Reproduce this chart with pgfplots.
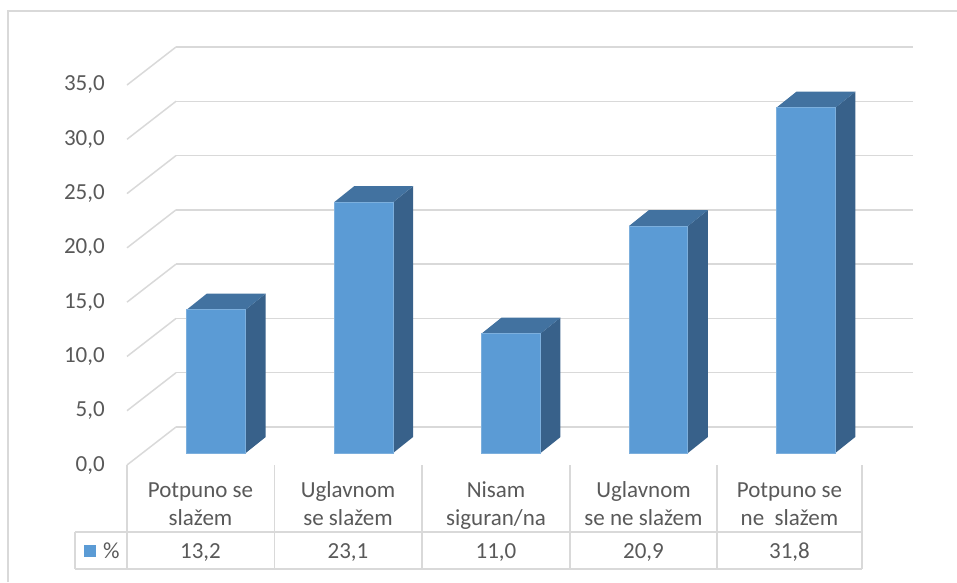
\documentclass[border=0pt]{standalone}
\usepackage{pgfplots}
\usepackage{pgfplotstable}
\pgfplotsset{compat=1.18}
\usepackage{fontspec}
\setmainfont{Carlito}
\definecolor{barfront}{RGB}{91,155,213}
\definecolor{bartop}{RGB}{66,114,160}
\definecolor{barside}{RGB}{56,97,138}
\definecolor{gridc}{RGB}{217,217,217}
\definecolor{txt}{RGB}{89,89,89}

\pgfplotstableread{
i v
0 13.2
1 23.1
2 11.0
3 20.9
4 31.8
}\datatable

% offsets (axis units) of the bar front and back planes from the back wall
\def\bfx{-0.2273}
\def\bfy{-2.395}
\def\bbx{-0.0916}
\def\bby{-0.921}

\begin{document}
\begin{tikzpicture}[x=1pt,y=-1pt, font=\fontsize{23}{28}\selectfont]
\useasboundingbox (0,0) rectangle (957,582);
% outer frame
\draw[gridc, line width=1.5pt] (8,582) -- (8,11) -- (957,11);
% left wall diagonals
\foreach \k in {0,...,7} {\draw[gridc, line width=1.5pt] (127,{465-54.286*\k}) -- (176,{427-54.286*\k});}
% data table lines
\draw[gridc,line width=1.5pt] (127,465) -- (127,569);
\foreach \xx in {274.5,422,570,717,862} {\draw[gridc,line width=1.5pt] (\xx,465) -- (\xx,569);}
\draw[gridc,line width=1.5pt] (75,532) -- (862,532) (75,569) -- (862,569) (75,532) -- (75,569);
% header texts
\begin{scope}[every node/.style={text=txt, anchor=base, inner sep=0pt}]
\node at (200.5,497) {Potpuno se};
\node at (200.5,525) {slažem};
\node at (348,497) {Uglavnom};
\node at (348,525) {se slažem};
\node at (496,497) {Nisam};
\node at (496,525) {siguran/na};
\node at (643.5,497) {Uglavnom};
\node at (643.5,525) {se ne slažem};
\node at (789.5,497) {Potpuno se};
\node at (789.5,525) {ne\ \ slažem};
\node at (200.5,558) {13,2};
\node at (348,558) {23,1};
\node at (496,558) {11,0};
\node at (643.5,558) {20,9};
\node at (789.5,558) {31,8};
\node[anchor=base west] at (103,558) {\%};
\end{scope}
\fill[barfront] (84,545) rectangle (96,557);

\begin{axis}[at={(176pt,-427pt)}, anchor=south west, scale only axis,
  width=737pt, height=380pt,
  xmin=-0.5, xmax=4.5, ymin=0, ymax=35, clip=false,
  axis line style={draw=none}, xtick=\empty,
  ytick={0,5,...,35}, major tick length=0pt,
  ymajorgrids, grid style={gridc, line width=1.5pt},
  yticklabel={\pgfmathprintnumber[fixed,fixed zerofill,precision=1,use comma,assume math mode=true]{\tick}},
  yticklabel style={anchor=east, inner sep=0pt, xshift=-71pt, yshift=-38pt,
    font=\fontsize{23}{28}\selectfont, text=txt},
]
\pgfplotsinvokeforeach{0,...,4}{
  \pgfplotstablegetelem{#1}{v}\of\datatable
  \pgfmathsetmacro\vf{\pgfplotsretval+\bfy}
  \pgfmathsetmacro\vb{\pgfplotsretval+\bby}
  \pgfmathsetmacro\xl{#1+\bfx-0.2}
  \pgfmathsetmacro\xr{#1+\bfx+0.2}
  \pgfmathsetmacro\xbl{#1+\bbx-0.2}
  \pgfmathsetmacro\xbr{#1+\bbx+0.2}
  \addplot[fill=barside, draw=none] coordinates {(\xr,\bfy) (\xbr,\bby) (\xbr,\vb) (\xr,\vf)} -- cycle;
  \addplot[fill=bartop, draw=none] coordinates {(\xl,\vf) (\xbl,\vb) (\xbr,\vb) (\xr,\vf)} -- cycle;
  \addplot[fill=barfront, draw=barfront!80!white, line width=0.8pt] coordinates {(\xl,\bfy) (\xr,\bfy) (\xr,\vf) (\xl,\vf)} -- cycle;
}
\end{axis}
\end{tikzpicture}
\end{document}
